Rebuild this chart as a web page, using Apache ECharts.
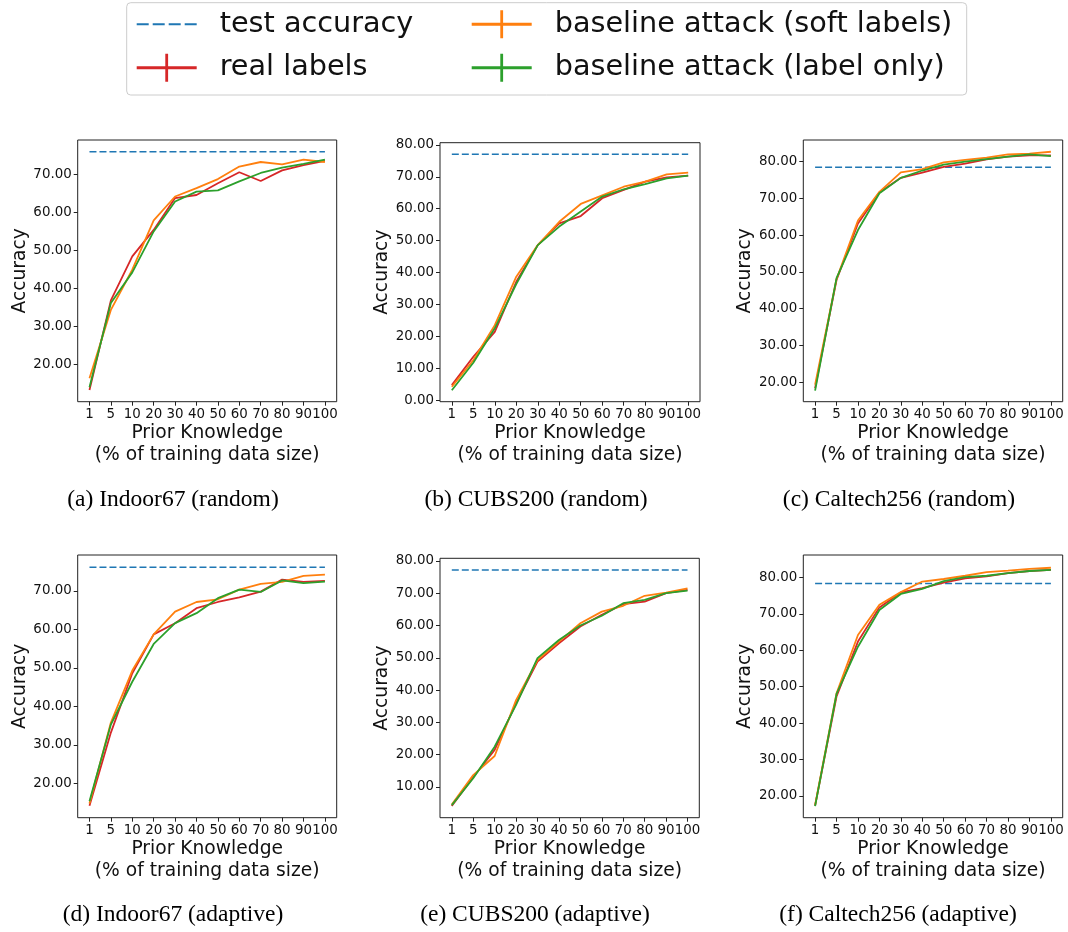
<!DOCTYPE html>
<html>
<head>
<meta charset="utf-8">
<script src="https://cdn.jsdelivr.net/npm/echarts@6/dist/echarts.min.js"></script>
<style>html,body{margin:0;padding:0;background:#fff}#c{width:1068px;height:932px}</style>
</head>
<body>
<div id="c"></div>
<script>
// ---------- data ----------
const xLabels = ['1','5','10','20','30','40','50','60','70','80','90','100'];
const seriesNames = ['test accuracy','real labels','baseline attack (soft labels)','baseline attack (label only)'];
const captions = ['(a) Indoor67 (random)','(b) CUBS200 (random)','(c) Caltech256 (random)',
                  '(d) Indoor67 (adaptive)','(e) CUBS200 (adaptive)','(f) Caltech256 (adaptive)'];
const testAcc = [76.0, 77.1, 78.5, 76.1, 77.2, 78.4];

const realA = [13.2,36.8,48.4,55.4,63.8,64.6,67.7,70.6,68.3,71.1,72.5,73.6];
const softA = [16.3,34.3,44.9,57.9,64.2,66.4,68.8,72.1,73.3,72.7,73.9,73.3];
const onlyA = [13.9,36.1,44.2,55.0,62.9,65.5,65.8,68.2,70.4,71.8,72.8,73.9];

const realB = [4.7,13.6,21.4,37.1,48.6,55.4,57.7,63.3,65.9,68.5,69.8,70.4];
const softB = [4.2,12.5,23.5,38.7,48.6,55.9,61.5,64.2,66.9,68.5,70.8,71.3];
const onlyB = [3.1,11.7,22.5,36.4,48.6,54.4,59.1,63.8,66.1,67.7,69.5,70.4];

const realC = [18.4,47.8,63.2,71.6,75.6,77.0,78.6,79.5,80.6,81.4,81.7,81.7];
const softC = [19.3,48.1,64.0,71.8,77.1,78.0,79.8,80.5,81.1,82.0,82.2,82.7];
const onlyC = [17.7,48.3,61.4,71.4,75.6,77.6,79.2,80.0,80.7,81.4,82.0,81.5];

const realD = [14.2,33.2,48.6,58.7,61.6,65.5,67.1,68.3,69.8,72.9,72.3,72.6];
const softD = [14.8,35.8,49.3,58.7,64.6,67.1,67.8,70.3,71.8,72.3,73.9,74.2];
const onlyD = [15.4,35.3,46.4,56.2,61.6,64.2,68.1,70.3,69.7,72.7,72.0,72.4];

const realE = [4.1,13.0,21.5,35.9,48.8,54.5,59.7,63.3,66.6,67.4,70.0,71.0];
const softE = [4.6,13.7,19.6,36.9,49.3,55.0,60.7,64.3,66.1,69.2,70.2,71.5];
const onlyE = [4.4,12.7,22.5,35.4,49.9,55.5,60.0,63.0,66.9,67.9,70.0,70.8];

const realF = [17.3,47.3,62.4,71.8,75.9,77.1,78.6,79.8,80.3,81.2,81.8,82.1];
const softF = [17.5,48.2,64.2,72.5,76.0,78.9,79.6,80.5,81.5,81.9,82.4,82.7];
const onlyF = [17.2,48.0,61.0,71.1,75.5,76.9,79.0,80.1,80.5,81.2,81.8,82.1];

const yTicksA = [20,30,40,50,60,70];
const yTicksB = [0,10,20,30,40,50,60,70,80];
const yTicksC = [20,30,40,50,60,70,80];
const yTicksD = [20,30,40,50,60,70];
const yTicksE = [10,20,30,40,50,60,70,80];
const yTicksF = [20,30,40,50,60,70,80];

const panels = [
  {real: realA, soft: softA, only: onlyA, test: testAcc[0], ticks: yTicksA},
  {real: realB, soft: softB, only: onlyB, test: testAcc[1], ticks: yTicksB},
  {real: realC, soft: softC, only: onlyC, test: testAcc[2], ticks: yTicksC},
  {real: realD, soft: softD, only: onlyD, test: testAcc[3], ticks: yTicksD},
  {real: realE, soft: softE, only: onlyE, test: testAcc[4], ticks: yTicksE},
  {real: realF, soft: softF, only: onlyF, test: testAcc[5], ticks: yTicksF}
];

// ---------- layout ----------
const layout = [
  {left:77.7, top:140,   width:259,   height:261.7, ymin:10.1, ymax:79.1, capX:173, capY:500},
  {left:440,  top:142.7, width:260,   height:259,   ymin:-0.5, ymax:80.7, capX:536, capY:500},
  {left:803.3,top:140,   width:259.4, height:261.7, ymin:14.7, ymax:85.9, capX:899, capY:500},
  {left:77.7, top:555,   width:259,   height:262.7, ymin:11.1, ymax:79.3, capX:173, capY:915},
  {left:440,  top:558.3, width:259.3, height:259.4, ymin:0.5,  ymax:80.8, capX:535, capY:915},
  {left:803.3,top:555,   width:259.4, height:262.7, ymin:14.0, ymax:86.2, capX:898, capY:915}
];
const colors = {test:'#1f77b4', real:'#d62728', soft:'#ff7f0e', only:'#2ca02c'};
const FONT = 'DejaVu Sans';
const TXT = '#111';

const grid = [], xAxis = [], yAxis = [], series = [];
const xIdx = xLabels.map((_, k) => k);

panels.forEach((p, i) => {
  const L = layout[i];
  grid.push({left:L.left, top:L.top, width:L.width, height:L.height, show:true,
             borderColor:'#222', borderWidth:1, backgroundColor:'transparent'});
  xAxis.push({
    type:'value', gridIndex:i, min:-0.55, max:11.55,
    splitLine:{show:false}, axisLine:{show:false, onZero:false},
    axisTick:{show:true, length:4, customValues:xIdx, lineStyle:{color:'#222', width:1}},
    axisLabel:{customValues:xIdx, formatter:(v) => xLabels[Math.round(v)], fontSize:13.4,
               fontFamily:FONT, color:TXT, margin:6},
    name:'Prior Knowledge\n(% of training data size)', nameLocation:'middle', nameGap:21,
    nameTextStyle:{fontSize:18.7, lineHeight:21.5, fontFamily:FONT, color:TXT}
  });
  yAxis.push({
    type:'value', gridIndex:i, min:L.ymin, max:L.ymax,
    splitLine:{show:false}, axisLine:{show:false, onZero:false},
    axisTick:{show:true, length:4, customValues:p.ticks, lineStyle:{color:'#222', width:1}},
    axisLabel:{customValues:p.ticks, formatter:(v) => v.toFixed(2), fontSize:13.4,
               fontFamily:FONT, color:TXT, margin:6},
    name:'Accuracy', nameLocation:'middle', nameGap:46,
    nameTextStyle:{fontSize:18.7, fontFamily:FONT, color:TXT}
  });
  const common = {type:'line', xAxisIndex:i, yAxisIndex:i, symbol:'none', showSymbol:false,
                  silent:true, animation:false};
  series.push(Object.assign({}, common, {
    name:seriesNames[0], data:[[0, p.test],[xLabels.length-1, p.test]],
    lineStyle:{color:colors.test, width:1.5, type:[7,3]}, itemStyle:{color:colors.test}}));
  series.push(Object.assign({}, common, {
    name:seriesNames[1], data:p.real.map((v,k)=>[k,v]),
    lineStyle:{color:colors.real, width:1.8}, itemStyle:{color:colors.real}}));
  series.push(Object.assign({}, common, {
    name:seriesNames[2], data:p.soft.map((v,k)=>[k,v]),
    lineStyle:{color:colors.soft, width:1.8}, itemStyle:{color:colors.soft}}));
  series.push(Object.assign({}, common, {
    name:seriesNames[3], data:p.only.map((v,k)=>[k,v]),
    lineStyle:{color:colors.only, width:1.8}, itemStyle:{color:colors.only}}));
});

// legend icons (bounding box 78x30; handle drawn in first 60px)
const dashIcon = 'path://M0,0 L0,0 Z M0,14 L12,14 L12,16 L0,16 Z M16,14 L28,14 L28,16 L16,16 Z M32,14 L44,14 L44,16 L32,16 Z M48,14 L60,14 L60,16 L48,16 Z M78,30 L78,30 Z';
const plusIcon = 'path://M0,0 L0,0 Z M0,13.5 L60,13.5 L60,16.5 L0,16.5 Z M28.6,1 L31.4,1 L31.4,29 L28.6,29 Z M78,30 L78,30 Z';
const legendCommon = {orient:'vertical', padding:0, itemGap:13.4, itemWidth:78, itemHeight:30,
  selectedMode:false, itemStyle:{borderWidth:0},
  textStyle:{fontSize:28.7, lineHeight:30, fontFamily:FONT, color:TXT}};

const option = {
  animation:false,
  backgroundColor:'#fff',
  grid, xAxis, yAxis, series,
  legend:[
    Object.assign({}, legendCommon, {left:136.7, top:9.3,
      data:[{name:seriesNames[0], icon:dashIcon},{name:seriesNames[1], icon:plusIcon}]}),
    Object.assign({}, legendCommon, {left:471.7, top:9.3,
      data:[{name:seriesNames[2], icon:plusIcon},{name:seriesNames[3], icon:plusIcon}]})
  ],
  graphic:[
    {type:'rect', silent:true, z:0, shape:{x:126.7, y:2.7, width:840, height:92.3, r:4},
     style:{fill:'#fff', stroke:'#cccccc', lineWidth:1}}
  ].concat(captions.map((c, i) => ({
    type:'text', silent:true, x:layout[i].capX, y:layout[i].capY,
    style:{text:c, fontSize:23.5, fontFamily:'Liberation Serif', fill:'#000',
           align:'center', verticalAlign:'middle'}
  })))
};

const chart = echarts.init(document.getElementById('c'), null, {renderer:'canvas'});
chart.setOption(option);
</script>
</body>
</html>
